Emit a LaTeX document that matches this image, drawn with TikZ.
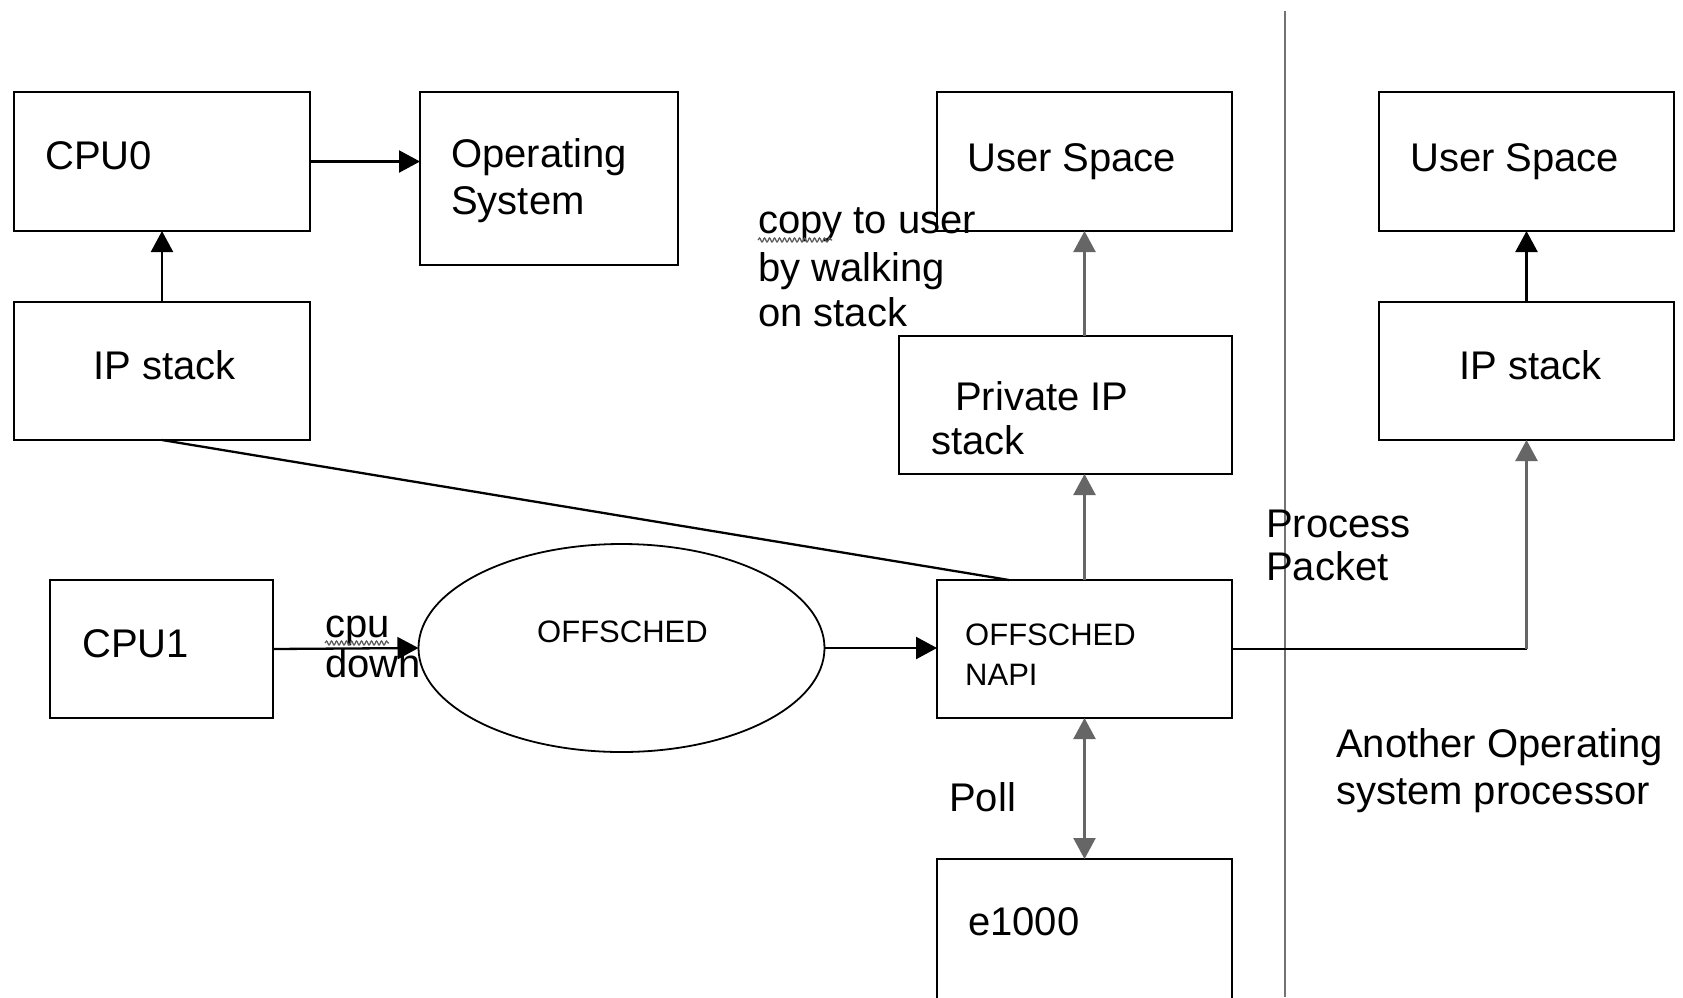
\documentclass[tikz,border=0pt]{standalone}
\usepackage{fontspec}
\setmainfont{Liberation Sans}
\usetikzlibrary{arrows.meta,decorations.pathmorphing,shapes.geometric}
\begin{document}
\begin{tikzpicture}[x=1pt,y=-1pt,
  box/.style={draw=black,line width=2.6pt,rectangle,inner sep=0pt,outer sep=0pt},
  lbl/.style={anchor=base west,inner sep=0pt,font=\fontsize{40}{48}\selectfont},
  lbls/.style={anchor=base west,inner sep=0pt,font=\fontsize{31}{37}\selectfont},
  tip/.tip={Triangle[length=21pt,width=22pt]},
  arr/.style={line width=2.3pt,-tip},
  garr/.style={line width=2.3pt,draw=black!60,tip-tip},
  squiggle/.style={draw=black!65,line width=1.2pt,decorate,decoration={snake,amplitude=2pt,segment length=5pt}}]
\fill[white] (0,0) rectangle (1683,997);
\useasboundingbox (0,0) rectangle (1683,997);

% boxes
\node[box,minimum width=296pt,minimum height=139pt] (cpu0) at (162,161.5) {};
\node[box,minimum width=258pt,minimum height=173pt] (os) at (549,178.5) {};
\node[box,minimum width=296pt,minimum height=138pt] (ipl) at (162,371) {};
\node[box,minimum width=223pt,minimum height=138pt] (cpu1) at (161.5,649) {};
\node[draw=black,line width=1.8pt,ellipse,inner sep=0pt,outer sep=0pt,minimum width=406pt,minimum height=208pt] (sched) at (621.5,648) {};
\node[box,minimum width=295pt,minimum height=138pt] (napi) at (1084.5,649) {};
\node[box,minimum width=295pt,minimum height=150pt] (e1000) at (1084.5,934) {};
\node[box,minimum width=333pt,minimum height=138pt] (pip) at (1065.5,405) {};
\node[box,minimum width=295pt,minimum height=139pt] (usm) at (1084.5,161.5) {};
\node[box,minimum width=295pt,minimum height=139pt] (usr) at (1526.5,161.5) {};
\node[box,minimum width=295pt,minimum height=138pt] (ipr) at (1526.5,371) {};

% divider between the two processors
\coordinate (divtop) at (1285,11);
\coordinate (divbot) at (1285,997);
\draw[black!55,line width=2pt] (divtop) -- (divbot);

% box texts
\node[lbl] (t-cpu0) at (45,169) {CPU0};
\node[lbl] (t-os1) at (451,167) {Operating};
\node[lbl] (t-os2) at (451,214) {System};
\node[lbl] (t-ipl) at (93,379) {IP stack};
\node[lbl] (t-cpu1) at (82,657) {CPU1};
\node[lbls] (t-sched) at (537,642) {OFFSCHED};
\node[lbls] (t-napi1) at (965,645) {OFFSCHED};
\node[lbls] (t-napi2) at (965,685) {NAPI};
\node[lbl] (t-e1000) at (968,935) {e1000};
\node[lbl] (t-pip1) at (955,410) {Private IP};
\node[lbl] (t-pip2) at (931,454) {stack};
\node[lbl] (t-usm) at (967,171) {User Space};
\node[lbl] (t-usr) at (1410,171) {User Space};
\node[lbl] (t-ipr) at (1459,379) {IP stack};

% free labels
\node[lbl] (t-copy1) at (758,233) {copy to user};
\node[lbl] (t-copy2) at (758,281) {by walking};
\node[lbl] (t-copy3) at (758,326) {on stack};
\node[lbl] (t-proc1) at (1266,537) {Process};
\node[lbl] (t-proc2) at (1266,580) {Packet};
\node[lbl] (t-aos1) at (1336,757) {Another Operating};
\node[lbl] (t-aos2) at (1336,804) {system processor};
\node[lbl] (t-poll) at (949,811) {Poll};
\node[lbl] (t-cpu) at (325,637) {cpu};
\node[lbl] (t-down) at (325,677) {down};

% spell-check squiggles
\draw[squiggle] (t-copy1.base west) ++(0,7) -- ++(74,0);
\draw[squiggle] (t-cpu.base west) ++(0,6) -- ++(64,0);

% connectors
\draw[arr] (cpu0.east) -- (cpu0.east -| os.west);
\draw[arr] (ipl.north) -- (cpu0.south);
\draw[line width=2.3pt] (ipl.south) -- ([xshift=72pt]napi.north west);
\draw[arr] (cpu1.east) -- (sched.west);
\draw[arr] (sched.east) -- (sched.east -| napi.west);
\draw[arr,draw=black!60] (napi.north) -- (napi.north |- pip.south);
\draw[arr,draw=black!60] (napi.north |- pip.north) -- (usm.south);
\draw[garr] (napi.south) -- (e1000.north);
\coordinate (bend) at (napi.east -| ipr.south);
\draw[line width=2.3pt] (napi.east) -- (bend);
\draw[arr,draw=black!60] (bend) -- (ipr.south);
\draw[arr] (ipr.north) -- (usr.south);
\end{tikzpicture}
\end{document}
